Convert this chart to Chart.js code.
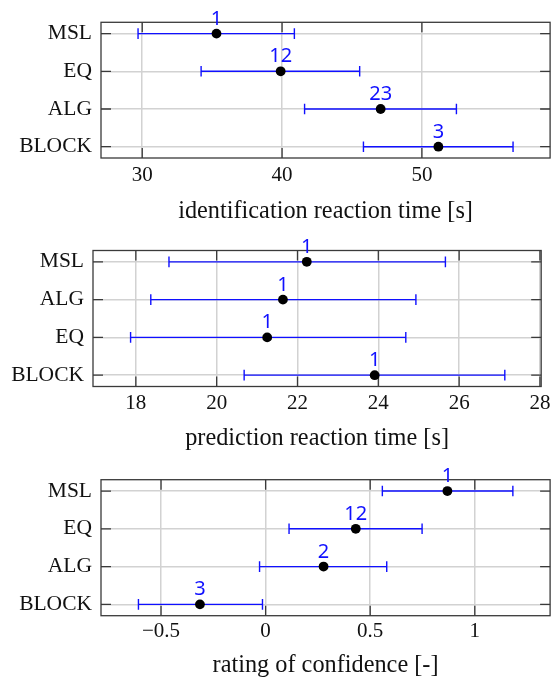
<!DOCTYPE html>
<html>
<head>
<meta charset="utf-8">
<script src="https://cdn.jsdelivr.net/npm/chart.js@4.4.1/dist/chart.umd.min.js"></script>
<style>
  html, body { margin: 0; padding: 0; background: #fff; }
  .box { position: absolute; left: 0; width: 555px; height: 227px; }
</style>
</head>
<body>
<div class="box" style="top:0"><canvas id="c1"></canvas></div>
<div class="box" style="top:227px"><canvas id="c2"></canvas></div>
<div class="box" style="top:454px"><canvas id="c3"></canvas></div>
<script>
// identification reaction time
const idNames = ["MSL", "EQ", "ALG", "BLOCK"];
const idMean = [35.31, 39.9, 47.05, 51.18];
const idLow = [29.7, 34.21, 41.61, 45.82];
const idHigh = [40.88, 45.55, 52.47, 56.52];
const idCount = ["1", "12", "23", "3"];
const idTicks = [30, 40, 50];

// prediction reaction time
const predNames = ["MSL", "ALG", "EQ", "BLOCK"];
const predMean = [22.23, 21.64, 21.25, 23.91];
const predLow = [18.82, 18.37, 17.87, 20.68];
const predHigh = [25.66, 24.93, 24.68, 27.13];
const predCount = ["1", "1", "1", "1"];
const predTicks = [18, 20, 22, 24, 26, 28];

// rating of confidence
const confNames = ["MSL", "EQ", "ALG", "BLOCK"];
const confMean = [0.869, 0.431, 0.277, -0.314];
const confLow = [0.558, 0.112, -0.029, -0.608];
const confHigh = [1.182, 0.748, 0.579, -0.015];
const confCount = ["1", "12", "2", "3"];
const confTicks = [-0.5, 0, 0.5, 1];

const SERIF = "'Liberation Serif', 'DejaVu Serif', serif";
const BOX_H = 227;

// frame, inner tick marks, error bars and count labels
const errorBars = {
  id: "errorBars",
  beforeDatasetsDraw(chart, args, opts) {
    const { ctx, chartArea: a, scales: { x, y } } = chart;
    ctx.save();
    ctx.strokeStyle = "#3a3a3a";
    ctx.lineWidth = 1.3;
    ctx.strokeRect(a.left, a.top, a.right - a.left, a.bottom - a.top);
    ctx.beginPath();
    y.ticks.forEach((t) => {
      const py = y.getPixelForValue(t.value);
      ctx.moveTo(a.left, py);
      ctx.lineTo(a.left + 10, py);
      ctx.moveTo(a.right, py);
      ctx.lineTo(a.right - 10, py);
    });
    x.ticks.forEach((t) => {
      const px = x.getPixelForValue(t.value);
      ctx.moveTo(px, a.bottom);
      ctx.lineTo(px, a.bottom - 10);
      ctx.moveTo(px, a.top);
      ctx.lineTo(px, a.top + 10);
    });
    ctx.stroke();

    ctx.strokeStyle = "#1010ff";
    ctx.lineWidth = 1.4;
    ctx.beginPath();
    opts.low.forEach((lo, i) => {
      const py = y.getPixelForValue(i);
      const x0 = x.getPixelForValue(lo);
      const x1 = x.getPixelForValue(opts.high[i]);
      ctx.moveTo(x0, py);
      ctx.lineTo(x1, py);
      ctx.moveTo(x0, py - 5.3);
      ctx.lineTo(x0, py + 5.3);
      ctx.moveTo(x1, py - 5.3);
      ctx.lineTo(x1, py + 5.3);
    });
    ctx.stroke();
    ctx.restore();
  },
  afterDatasetsDraw(chart, args, opts) {
    const { ctx, scales: { x, y } } = chart;
    ctx.save();
    ctx.fillStyle = "#1010ff";
    ctx.font = "20px 'Noto Sans'";
    ctx.textAlign = "center";
    ctx.textBaseline = "alphabetic";
    opts.count.forEach((c, i) => {
      ctx.fillText(c, x.getPixelForValue(opts.mean[i]), y.getPixelForValue(i) - 9);
    });
    ctx.restore();
  },
};

const fmt = (v) => (v < 0 ? "\u2212" + Math.abs(v) : String(v));

const makeChart = (canvasId, title, names, mean, low, high, count, ticks, box) => {
  return new Chart(document.getElementById(canvasId).getContext("2d"), {
    type: "scatter",
    data: {
      datasets: [
        {
          data: mean.map((m, i) => ({ x: m, y: i })),
          backgroundColor: "#000",
          borderWidth: 0,
          pointRadius: 4.9,
        },
      ],
    },
    plugins: [errorBars],
    options: {
      responsive: true,
      maintainAspectRatio: false,
      animation: false,
      layout: {
        padding: { top: box.top, right: 555 - box.right, bottom: 0, left: 0 },
      },
      scales: {
        x: {
          type: "linear",
          min: box.min,
          max: box.max,
          afterBuildTicks: (s) => {
            s.ticks = ticks.map((v) => ({ value: v }));
          },
          afterFit: (s) => {
            s.height = BOX_H - box.bottom;
          },
          grid: { color: "#d2d2d2", lineWidth: 1.5, drawTicks: false },
          border: { display: false },
          ticks: {
            padding: box.tickPad,
            maxRotation: 0,
            autoSkip: false,
            color: "#111",
            font: { family: SERIF, size: 21 },
            callback: (v) => fmt(v),
          },
          title: {
            display: true,
            text: title,
            color: "#111",
            padding: { top: 0, bottom: 0.5 },
            font: { family: SERIF, size: 24.3 },
          },
        },
        y: {
          type: "linear",
          reverse: true,
          min: -0.3,
          max: 3.3,
          afterBuildTicks: (s) => {
            s.ticks = names.map((_, i) => ({ value: i }));
          },
          afterFit: (s) => {
            s.width = box.left;
          },
          grid: { color: "#d2d2d2", lineWidth: 1.5, drawTicks: false },
          border: { display: false },
          ticks: {
            padding: 9,
            autoSkip: false,
            color: "#111",
            font: { family: SERIF, size: 21.5 },
            callback: (v) => names[v],
          },
        },
      },
      plugins: {
        legend: { display: false },
        tooltip: { enabled: false },
        errorBars: { mean, low, high, count },
      },
    },
  });
};

makeChart("c1", "identification reaction time [s]", idNames, idMean, idLow, idHigh, idCount, idTicks,
  { top: 22.3, bottom: 158, left: 101, right: 554, tickPad: 4.5, min: 27.05, max: 59.17 });
makeChart("c2", "prediction reaction time [s]", predNames, predMean, predLow, predHigh, predCount, predTicks,
  { top: 23.5, bottom: 159.5, left: 93, right: 544.4, tickPad: 4.5, min: 16.94, max: 28.03 });
makeChart("c3", "rating of confidence [-]", confNames, confMean, confLow, confHigh, confCount, confTicks,
  { top: 25.7, bottom: 161.7, left: 101, right: 554, tickPad: 3.5, min: -0.787, max: 1.36 });
</script>
</body>
</html>
